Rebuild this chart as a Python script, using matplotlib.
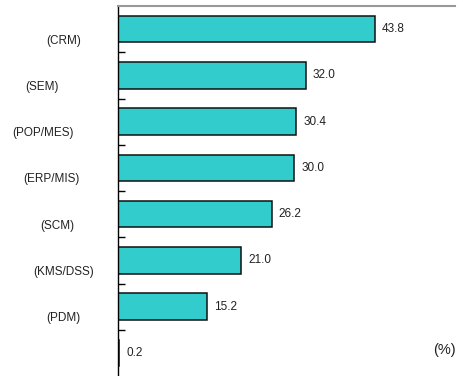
import matplotlib
matplotlib.use('Agg')
import matplotlib.pyplot as plt

plt.rcParams['font.family'] = ['Liberation Sans', 'DejaVu Sans']

# data
categories = ['(CRM)', '(SEM)', '(POP/MES)', '(ERP/MIS)', '(SCM)', '(KMS/DSS)', '(PDM)', '']
values = [43.8, 32.0, 30.4, 30.0, 26.2, 21.0, 15.2, 0.2]

# horizontal offset (px, from axis) of each category label centre
label_dx = [-54, -76, -75, -67, -61, -54, -55, 0]

fig = plt.figure(figsize=(4.63, 3.76), dpi=100)
ax = fig.add_axes([118 / 463, 0.0, (455 - 118) / 463, 1 - 6 / 376])

pos = list(range(len(values)))
ax.barh(pos, values, height=0.57, color='#33CCCC', edgecolor='#111111', linewidth=1.1)

ax.set_ylim(len(values) - 0.5, -0.5)
ax.set_xlim(0, 57.4)

# value labels
for p, v in zip(pos, values):
    ax.annotate('%.1f' % v, xy=(v, p), xytext=(5, 0), textcoords='offset points',
                ha='left', va='center', fontsize=8.5, color='#222222')

# category labels (slightly below bar centre, as in original)
for p, c, dx in zip(pos, categories, label_dx):
    if c:
        ax.annotate(c, xy=(0, p + 0.25), xytext=(dx * 0.72, 0), textcoords='offset points',
                    ha='center', va='center', fontsize=8.5, color='#222222',
                    annotation_clip=False)

# ticks between categories
ax.set_yticks([p + 0.5 for p in pos[:-1]])
ax.set_yticklabels([])
ax.tick_params(axis='y', direction='in', length=5, width=1, color='black', left=True)
ax.set_xticks([])

ax.spines['right'].set_visible(False)
ax.spines['bottom'].set_visible(False)
ax.spines['top'].set_color('#999999')
ax.spines['top'].set_linewidth(1.5)
ax.spines['left'].set_color('black')
ax.spines['left'].set_linewidth(1)

fig.text(444 / 463, 1 - 350 / 376, '(%)', ha='center', va='center', fontsize=10.5, color='#222222')

fig.savefig('out.png', dpi=100)
